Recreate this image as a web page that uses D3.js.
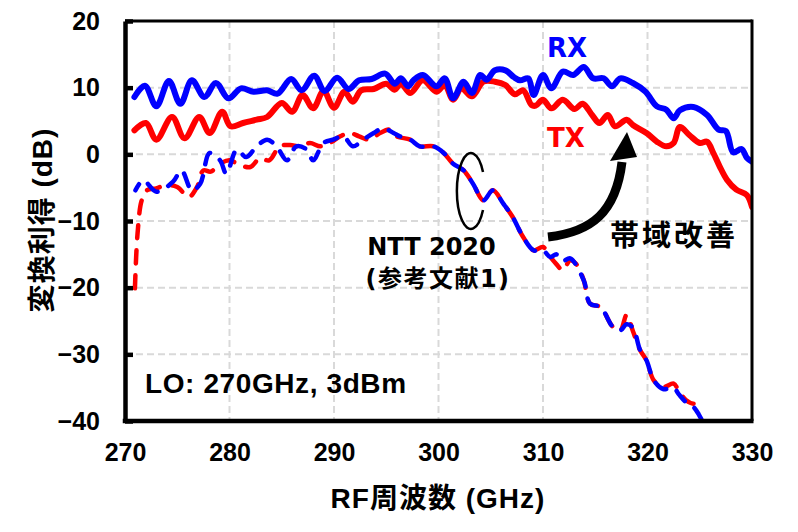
<!DOCTYPE html>
<html>
<head>
<meta charset="utf-8">
<script src="https://cdn.jsdelivr.net/npm/d3@7"></script>
<style>
  html, body { margin: 0; padding: 0; background: #ffffff; }
  svg { display: block; }
</style>
</head>
<body>
<div id="chart"></div>
<script>
// ---------- Data ----------
const xTicks = [270, 280, 290, 300, 310, 320, 330];
const yTicks = [-40, -30, -20, -10, 0, 10, 20];

// This work: RX (blue, solid)
const rxFreq = [270.9, 271.9, 273.0, 274.2, 275.3, 276.4, 277.6, 278.7, 279.9, 281.1, 282.3, 283.6, 284.6, 285.9, 286.9, 288.1, 289.1, 290.3, 291.4, 292.4, 293.6, 294.9, 295.8, 296.4, 297.1, 297.6, 298.5, 299.8, 300.6, 301.4, 302.4, 303.2, 304.0, 304.6, 305.4, 306.4, 307.2, 307.8, 308.6, 309.1, 310.0, 310.8, 311.9, 312.9, 313.9, 314.8, 315.8, 316.6, 317.4, 318.6, 319.8, 320.9, 321.8, 322.5, 323.1, 324.4, 325.7, 326.8, 327.5, 328.2, 329.0, 329.5, 330.0];
const rxGain = [8.6, 10.3, 7.2, 11.0, 7.6, 11.1, 8.6, 10.7, 8.4, 9.9, 9.4, 9.6, 9.1, 11.3, 9.6, 11.8, 9.5, 11.5, 9.8, 11.1, 11.3, 12.1, 10.6, 11.4, 10.2, 11.1, 11.9, 10.2, 11.4, 8.4, 10.9, 9.2, 11.9, 11.2, 12.6, 12.6, 11.6, 11.1, 11.4, 8.9, 11.9, 9.9, 12.4, 11.9, 13.1, 11.4, 11.4, 10.2, 11.4, 10.7, 9.4, 7.2, 6.7, 5.4, 6.6, 7.1, 5.9, 3.7, 3.5, 0.3, 0.8, -0.5, -1.1];

// This work: TX (red, solid)
const txFreq = [270.9, 272.0, 273.0, 274.5, 275.7, 277.1, 278.1, 279.3, 280.1, 281.3, 282.6, 283.6, 285.0, 286.0, 287.0, 288.0, 289.0, 290.0, 291.0, 291.8, 292.6, 293.8, 295.0, 295.8, 296.4, 297.3, 298.5, 299.8, 300.6, 301.4, 302.2, 303.2, 304.3, 305.4, 306.4, 307.3, 308.1, 308.9, 309.3, 310.0, 310.8, 311.9, 313.0, 313.8, 314.7, 315.4, 316.2, 316.9, 318.0, 318.6, 319.9, 320.9, 321.8, 322.5, 323.1, 324.0, 325.0, 325.7, 326.3, 326.9, 327.6, 328.5, 329.5, 330.0];
const txGain = [3.6, 4.7, 2.2, 5.6, 2.4, 5.6, 3.2, 6.4, 4.2, 4.7, 5.2, 5.6, 7.7, 6.4, 8.9, 6.9, 9.5, 7.0, 9.4, 7.9, 9.6, 9.8, 10.6, 9.7, 10.6, 9.2, 11.1, 9.4, 10.4, 8.2, 9.9, 8.7, 10.9, 10.9, 10.4, 9.0, 9.6, 7.4, 7.3, 8.2, 6.9, 8.2, 6.8, 7.6, 5.9, 4.7, 5.9, 4.2, 5.2, 4.4, 3.2, 1.9, 1.2, 1.7, 4.1, 2.9, 1.7, 1.9, 0.2, -1.8, -3.8, -5.3, -6.1, -7.9];

// NTT 2020: TX (red, dashed)
const nttTxFreq = [270.95, 271.2, 271.6, 272.1, 273.0, 274.0, 275.0, 276.1, 276.9, 277.5, 278.2, 279.1, 280.0, 281.0, 282.0, 282.9, 283.8, 284.8, 285.8, 286.7, 287.7, 288.7, 289.6, 290.6, 291.5, 292.4, 293.4, 294.4, 295.4, 296.0, 297.3, 298.2, 299.5, 300.5, 301.4, 302.4, 303.3, 304.3, 305.2, 306.2, 307.1, 308.1, 309.1, 310.0, 310.7, 311.3, 311.9, 312.6, 313.2, 313.9, 314.5, 315.5, 316.7, 317.4, 318.0, 318.6, 319.3, 319.9, 320.6, 321.5, 322.5, 323.0, 323.7, 324.4, 325.4];
const nttTxGain = [-20.1, -11.9, -6.9, -5.4, -5.1, -4.6, -4.9, -6.4, -4.9, -2.4, -2.6, -1.4, -0.9, -1.6, -1.9, -0.6, -0.9, 1.2, 1.4, 1.2, 1.7, 1.2, 1.7, 2.7, 3.2, 2.7, 2.2, 3.2, 3.7, 2.7, 2.2, 1.2, 1.2, 0.2, -1.4, -2.4, -4.4, -6.9, -5.4, -7.4, -9.4, -12.4, -14.4, -13.9, -15.4, -16.5, -17.4, -15.9, -16.5, -18.9, -22.4, -22.9, -25.9, -26.4, -24.1, -26.5, -29.4, -30.9, -33.9, -34.9, -34.4, -35.5, -36.9, -37.4, -36.6];

// NTT 2020: RX (blue, dashed)
const nttRxFreq = [271.0, 271.75, 273.0, 274.6, 275.4, 276.4, 277.2, 278.1, 279.1, 279.7, 280.7, 281.6, 282.6, 283.6, 284.5, 285.5, 286.4, 287.4, 288.0, 289.0, 289.9, 290.9, 291.8, 292.8, 293.8, 294.7, 295.7, 296.3, 297.3, 298.2, 299.5, 300.5, 301.4, 302.4, 303.3, 304.3, 305.2, 306.2, 307.1, 308.1, 309.1, 310.0, 310.7, 311.3, 311.9, 312.6, 313.9, 314.5, 315.5, 316.7, 317.4, 318.0, 318.6, 319.3, 319.9, 320.6, 321.5, 322.5, 323.0, 323.7, 324.4, 324.9, 325.4];
const nttRxGain = [-5.4, -3.9, -5.6, -4.1, -2.4, -5.4, -4.4, 0.2, -0.9, -2.9, 0.7, -0.4, 1.2, 2.2, 1.2, -0.9, 1.2, 0.7, -0.9, 1.7, 2.2, 2.7, 1.2, 2.2, 3.2, 3.9, 3.2, 2.7, 2.2, 1.2, 1.2, 0.2, -1.4, -2.4, -4.4, -6.9, -5.4, -7.4, -9.4, -12.4, -14.4, -14.4, -15.4, -15.0, -16.0, -15.6, -18.9, -22.4, -22.9, -25.9, -26.4, -25.5, -26.0, -29.4, -30.9, -33.9, -35.2, -35.0, -36.0, -37.2, -37.9, -39.0, -40.5];

// ---------- Chart ----------
const W = 798, H = 532;
const margin = {left: 125, right: 46, top: 21, bottom: 111};
const latin = "'Liberation Sans', Arial, 'Noto Sans CJK JP', sans-serif";
const wide = "'DejaVu Sans', 'Noto Sans CJK JP', sans-serif";
const cjk = "'Noto Sans CJK JP', 'Liberation Sans', sans-serif";

const svg = d3.select("#chart").append("svg").attr("width", W).attr("height", H);

const x = d3.scaleLinear().domain([270, 330]).range([margin.left, W - margin.right]);
const y = d3.scaleLinear().domain([-40, 20]).range([H - margin.bottom, margin.top]);

svg.append("defs").append("clipPath").attr("id", "plotclip")
  .append("rect")
  .attr("x", x(270)).attr("y", y(20))
  .attr("width", x(330) - x(270)).attr("height", y(-40) - y(20));

// gridlines
const grid = svg.append("g");
grid.selectAll("line.v").data(xTicks.slice(1, -1)).join("line")
  .attr("x1", d => x(d)).attr("x2", d => x(d))
  .attr("y1", y(20)).attr("y2", y(-40))
  .attr("stroke", "#d9d9d9").attr("stroke-width", 2).attr("stroke-dasharray", "7,4");
grid.selectAll("line.h").data(yTicks.slice(1, -1)).join("line")
  .attr("x1", x(270)).attr("x2", x(330))
  .attr("y1", d => y(d)).attr("y2", d => y(d))
  .attr("stroke", "#d9d9d9").attr("stroke-width", 2).attr("stroke-dasharray", "7,4");

// data lines
const plot = svg.append("g").attr("clip-path", "url(#plotclip)");
const line = d3.line().x(d => x(d[0])).y(d => y(d[1])).curve(d3.curveCatmullRom.alpha(0.5));
const zip = (a, b) => a.map((v, i) => [v, b[i]]);

plot.append("path").datum(zip(nttTxFreq, nttTxGain)).attr("d", line)
  .attr("fill", "none").attr("stroke", "#ff0000").attr("stroke-width", 4.5)
  .attr("stroke-dasharray", "13,12").attr("stroke-linecap", "round");
plot.append("path").datum(zip(nttRxFreq, nttRxGain)).attr("d", line)
  .attr("fill", "none").attr("stroke", "#0000ff").attr("stroke-width", 4.5)
  .attr("stroke-dasharray", "13,12").attr("stroke-dashoffset", 6).attr("stroke-linecap", "round");
plot.append("path").datum(zip(txFreq, txGain)).attr("d", line)
  .attr("fill", "none").attr("stroke", "#ff0000").attr("stroke-width", 6)
  .attr("stroke-linejoin", "round").attr("stroke-linecap", "round");
plot.append("path").datum(zip(rxFreq, rxGain)).attr("d", line)
  .attr("fill", "none").attr("stroke", "#0000ff").attr("stroke-width", 6)
  .attr("stroke-linejoin", "round").attr("stroke-linecap", "round");

// frame (top/right thin)
svg.append("line").attr("x1", x(270)).attr("x2", x(330)).attr("y1", y(20)).attr("y2", y(20))
  .attr("stroke", "#000").attr("stroke-width", 3);
svg.append("line").attr("x1", x(330)).attr("x2", x(330)).attr("y1", y(20) - 1.5).attr("y2", y(-40))
  .attr("stroke", "#000").attr("stroke-width", 3);

// axes
const yAxis = d3.axisLeft(y).tickValues(yTicks).tickSizeInner(-8).tickSizeOuter(0).tickPadding(25);
const gy = svg.append("g").attr("transform", `translate(${x(270)},0)`).call(yAxis);
gy.select(".domain").attr("stroke", "#000").attr("stroke-width", 4.5);
gy.selectAll(".tick line").attr("stroke", "#000").attr("stroke-width", 4.5);
gy.selectAll(".tick text").attr("font-family", latin).attr("font-weight", "bold")
  .attr("font-size", 25).attr("fill", "#000");

const xAxis = d3.axisBottom(x).tickValues(xTicks).tickSizeInner(0).tickSizeOuter(0).tickPadding(22);
const gx = svg.append("g").attr("transform", `translate(0,${y(-40)})`).call(xAxis);
gx.select(".domain").attr("stroke", "#000").attr("stroke-width", 4.5)
  .attr("d", `M${-2.25},0H${x(330) - x(270) + 1.5}`)
  .attr("transform", `translate(${x(270)},0)`);
gx.selectAll(".tick text").attr("font-family", latin).attr("font-weight", "bold")
  .attr("font-size", 25).attr("fill", "#000");

// axis titles
svg.append("text").attr("x", 438).attr("y", 508).attr("text-anchor", "middle")
  .attr("font-family", latin).attr("font-weight", "bold").attr("font-size", 28)
  .attr("letter-spacing", 1).attr("fill", "#000").text("RF周波数 (GHz)");
svg.append("text").attr("transform", "translate(52,220) rotate(-90)").attr("text-anchor", "middle")
  .attr("font-family", latin).attr("font-weight", "bold").attr("font-size", 28)
  .attr("letter-spacing", 1).attr("fill", "#000").text("変換利得 (dB)");

// annotations
svg.append("text").attr("x", 567).attr("y", 57).attr("text-anchor", "middle")
  .attr("font-family", wide).attr("font-weight", "bold").attr("font-size", 26)
  .attr("fill", "#0000ff").text("RX");
svg.append("text").attr("x", 566).attr("y", 147).attr("text-anchor", "middle")
  .attr("font-family", wide).attr("font-weight", "bold").attr("font-size", 26)
  .attr("fill", "#ff0000").text("TX");

svg.append("text").attr("x", 431.5).attr("y", 255).attr("text-anchor", "middle")
  .attr("font-family", wide).attr("font-weight", "bold").attr("font-size", 24)
  .attr("fill", "#000").text("NTT 2020");
svg.append("text").attr("x", 438).attr("y", 287).attr("text-anchor", "middle")
  .attr("font-family", wide).attr("font-weight", "bold").attr("font-size", 24)
  .attr("letter-spacing", 1.5).attr("fill", "#000").text("(参考文献1)");

svg.append("text").attr("x", 145).attr("y", 393).attr("text-anchor", "start")
  .attr("font-family", latin).attr("font-weight", "bold").attr("font-size", 28)
  .attr("letter-spacing", 0.6).attr("fill", "#000").text("LO: 270GHz, 3dBm");

svg.append("text").attr("x", 674).attr("y", 246).attr("text-anchor", "middle")
  .attr("font-family", cjk).attr("font-weight", "bold").attr("font-size", 29)
  .attr("letter-spacing", 3).attr("fill", "#000").text("帯域改善");

// ellipse mark around the NTT curves
svg.append("path").attr("d", "M483,172 A14,38 0 1 0 483,210")
  .attr("fill", "none").attr("stroke", "#000").attr("stroke-width", 2.5);

// curved arrow
svg.append("path").attr("d", "M548,237 C592,232 616,212 622,162")
  .attr("fill", "none").attr("stroke", "#000").attr("stroke-width", 9);
svg.append("path").attr("d", "M610,161 L637,157 L627,132 Z").attr("fill", "#000");
</script>
</body>
</html>
